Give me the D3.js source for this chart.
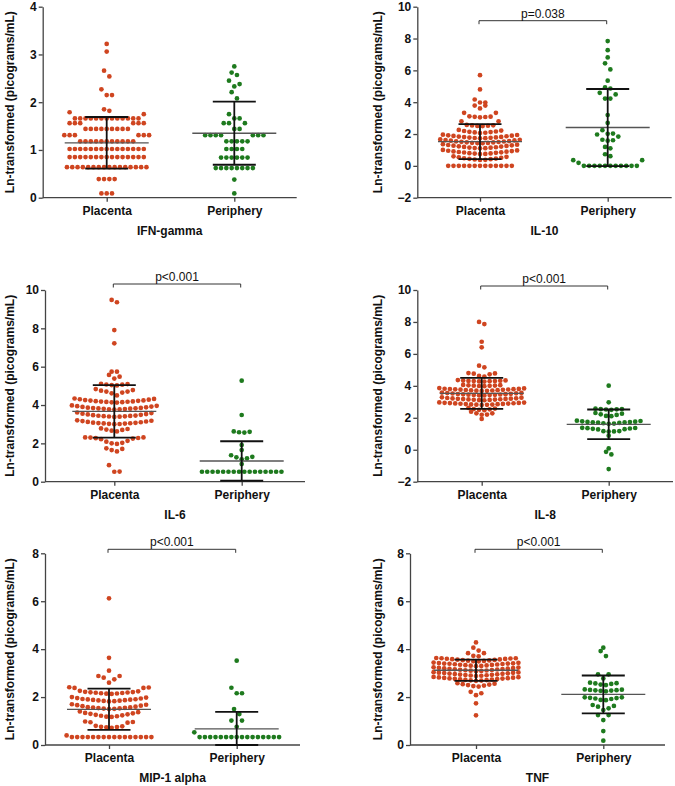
<!DOCTYPE html>
<html><head><meta charset="utf-8">
<script src="https://cdnjs.cloudflare.com/ajax/libs/d3/7.8.5/d3.min.js"></script>
<style>body{margin:0;background:#fff;} text{font-family:"Liberation Sans",Arial,sans-serif;}</style>
</head><body><svg id="c" width="675" height="786"></svg>
<script>
// ---------------- data ----------------
const groups = ["Placenta", "Periphery"];
const cytokines = ["IFN-gamma", "IL-10", "IL-6", "IL-8", "MIP-1 alpha", "TNF"];
const yDomains = [[0, 4], [-2, 10], [0, 10], [-2, 10], [0, 8], [0, 8]];
const yTicks = [[0,1,2,3,4], [-2,0,2,4,6,8,10], [0,2,4,6,8,10], [-2,0,2,4,6,8,10], [0,2,4,6,8], [0,2,4,6,8]];
const pLabels = [null, "p=0.038", "p<0.001", "p<0.001", "p<0.001", "p<0.001"];
const placentaMeans = [1.15, 1.52, 3.67, 3.53, 1.49, 3.12];
const placentaSDs   = [0.54, 1.10, 1.37, 0.97, 0.86, 0.44];
const peripheryMeans = [1.35, 2.41, 1.08, 1.59, 0.67, 2.11];
const peripherySDs   = [0.66, 2.42, 1.03, 0.93, 0.71, 0.79];

const ifnPlacenta = [3.22,3.06,2.66,2.54,2.27,2.15,2.15,1.85,1.82,1.79,1.75,
1.66,1.66,1.66,1.66,1.66,1.66,1.66,1.66,1.66,1.66,1.66,1.66,1.66,
1.56,1.56,1.56,1.56,1.56,1.56,
1.44,1.44,1.44,1.44,1.44,1.44,1.44,1.44,1.44,
1.31,1.31,1.31,1.31,1.31,1.31,
1.18,1.18,1.18,1.18,1.18,1.18,1.18,1.18,1.18,1.18,1.18,
1.02,1.02,1.02,1.02,1.02,1.02,1.02,1.02,1.02,1.02,1.02,1.02,1.02,1.02,1.02,
0.85,0.85,0.85,0.85,0.85,0.85,0.85,0.85,0.85,0.85,0.85,0.85,0.85,0.85,0.85,
0.64,0.64,0.64,0.64,0.64,0.64,0.64,0.64,0.64,0.64,0.64,0.64,0.64,0.64,0.64,0.64,
0.39,0.39,0.39,0.39,
0.09,0.09,0.09];
const ifnPeriphery = [2.75,2.62,2.57,2.45,2.38,2.33,2.21,2.08,1.75,1.66,1.66,1.56,1.56,1.56,1.44,1.44,
1.31,1.31,1.31,1.31,1.31,1.31,1.31,
1.18,1.18,1.18,1.18,1.18,
1.02,1.02,1.02,1.02,
0.84,0.84,0.84,0.84,0.84,0.84,
0.62,0.62,0.62,0.62,0.62,0.62,0.62,0.62,
0.38,0.09];

const il10Placenta = [5.70,4.80,4.17,3.98,3.98,3.79,3.79,3.61,3.33,3.33,
3.05,3.07,3.08,3.09,3.11,
2.80,2.80,
2.50,2.51,2.52,2.54,2.55,2.57,
2.06,2.08,2.10,2.12,2.14,2.16,2.19,2.22,2.26,
1.73,1.74,1.75,1.76,1.78,1.79,1.81,1.82,1.84,1.86,1.88,1.90,1.92,1.94,1.96,
1.42,1.43,1.44,1.45,1.47,1.48,1.50,1.51,1.53,1.54,1.56,1.58,1.60,1.62,1.64,1.66,
1.10,1.11,1.12,1.14,1.15,1.17,1.19,1.21,1.23,1.25,1.27,1.29,1.31,1.33,1.36,
0.74,0.75,0.77,0.78,0.80,0.82,0.84,0.85,0.87,0.89,0.91,0.93,0.95,0.97,1.00,
0.37,0.38,0.40,0.42,0.44,0.46,0.48,0.51,0.54,0.57,0.60,
0,0,0,0,0,0,0,0,0,0,0,0,0];
const il10Periphery = [7.84,7.27,6.81,6.44,6.06,5.35,4.93,4.86,4.59,4.49,4.23,4.23,3.19,2.70,
2.24,2.03,2.01,1.97,1.84,1.64,1.61,1.58,1.19,1.10,0.73,0.61,0.36,0.36,0.19,
0,0,0,0,0,0,0,0,0,0,0];

const il6Placenta = [9.48,9.36,7.91,7.22,5.74,5.74,5.57,5.48,5.38,
5.02,5.04,5.06,5.07,5.09,5.11,
4.50,4.61,4.65,4.70,4.70,4.75,4.78,4.83,
4.13,4.14,4.15,4.16,4.17,4.18,4.19,4.20,4.22,4.23,4.24,4.26,4.28,4.30,4.32,4.34,
3.76,3.77,3.78,3.79,3.80,3.81,3.82,3.83,3.84,3.85,3.86,3.88,3.90,3.92,3.94,3.96,3.98,
3.38,3.39,3.40,3.41,3.42,3.43,3.44,3.45,3.47,3.49,3.51,3.53,3.55,3.58,3.61,
3.00,3.01,3.02,3.03,3.04,3.05,3.06,3.07,3.08,3.10,3.12,3.14,3.16,3.18,3.20,
2.62,2.66,2.70,2.72,2.75,2.78,
1.97,2.00,2.03,2.09,2.13,2.22,2.25,2.27,2.28,2.30,2.31,2.31,
1.58,1.65,1.71,1.74,
0.86,0.53,0.52];
const il6Periphery = [5.27,3.48,2.62,2.60,2.58,2.56,1.91,1.65,1.38,1.30,1.27,1.22,1.17,0.92,
0.52,0.52,0.52,0.52,0.52,0.52,0.52,0.52,0.52,0.52,0.52,0.52,0.52,0.52,0.52,0.52];

const il8Placenta = [8.00,7.87,6.76,6.41,5.26,5.16,
4.58,4.62,4.72,4.76,4.78,4.80,
4.27,4.28,4.29,4.30,4.30,4.31,4.32,4.33,4.34,4.36,
3.98,3.99,4.00,4.01,4.02,4.03,4.04,4.06,
3.68,3.69,3.70,3.71,3.72,3.73,3.74,3.75,3.76,3.77,3.78,3.79,3.80,3.81,3.82,3.84,3.86,
3.40,3.41,3.42,3.43,3.44,3.45,3.46,3.47,3.48,3.49,3.50,3.52,3.53,3.55,3.56,3.58,
3.10,3.11,3.12,3.13,3.14,3.15,3.16,3.17,3.18,3.19,3.20,3.21,3.22,3.24,3.26,3.28,
2.80,2.81,2.82,2.83,2.84,2.85,2.86,2.87,2.88,2.89,2.90,2.91,2.92,2.93,2.94,2.95,2.96,
2.48,2.50,2.53,2.55,2.58,2.62,
2.19,2.20,2.28,2.28,2.38,
1.93];
const il8Periphery = [4.01,2.97,2.57,2.55,2.54,2.53,2.52,2.50,2.30,2.26,2.22,2.18,2.12,2.10,
1.62,1.64,1.66,1.68,1.70,1.71,1.72,1.73,1.74,1.76,1.78,1.80,1.82,
1.37,1.36,1.35,1.33,1.31,1.29,1.27,
1.17,1.16,1.15,1.14,
0.88,0.08,-0.13,-0.29,-1.21];

const mipPlacenta = [6.12,3.64,3.10,2.88,2.88,2.81,2.74,2.60,
2.13,2.14,2.15,2.16,2.17,2.18,2.19,2.20,2.21,2.22,2.24,2.26,2.38,2.38,2.40,2.41,
1.82,1.83,1.84,1.85,1.86,1.87,1.88,1.89,1.90,1.91,1.92,1.94,1.96,1.98,2.00,
1.50,1.51,1.52,1.53,1.54,1.55,1.56,1.57,1.58,1.60,1.62,1.64,1.66,1.68,1.70,
1.17,1.18,1.20,1.22,1.24,1.26,1.28,1.30,1.32,1.34,1.37,1.40,
0.72,0.74,0.75,0.76,0.78,0.80,0.93,0.95,0.96,0.98,
0.33,0.33,0.33,0.33,0.33,0.33,0.33,0.33,0.33,0.33,0.33,0.33,0.33,0.33,0.33,0.33,0.40];
const mipPeriphery = [3.52,2.39,2.16,2.16,1.50,1.29,1.02,1.02,0.76,0.53,
0.33,0.33,0.33,0.33,0.33,0.33,0.33,0.33,0.33,0.33,0.33,0.33,0.33,0.33,0.33,0.33];

const tnfPlacenta = [4.28,4.06,3.94,3.83,3.83,3.72,3.70,
3.49,3.50,3.51,3.52,3.53,3.54,3.55,3.56,3.57,3.58,3.59,3.60,3.61,3.62,3.62,3.63,
3.29,3.30,3.31,3.32,3.33,3.34,3.35,3.36,3.37,3.38,3.39,3.40,3.40,3.41,3.42,3.43,3.44,
3.08,3.09,3.10,3.11,3.12,3.13,3.14,3.15,3.16,3.17,3.18,3.19,3.20,3.21,3.22,3.23,3.24,
2.88,2.89,2.90,2.91,2.92,2.93,2.94,2.95,2.96,2.97,2.98,2.99,3.00,3.01,3.02,3.03,3.04,
2.68,2.69,2.70,2.71,2.72,2.73,2.74,2.75,2.76,2.77,2.78,2.79,2.80,2.81,2.82,2.83,2.84,
2.44,2.46,2.48,2.50,2.52,2.54,2.56,2.58,
2.22,2.16,2.08,1.74,1.24];
const tnfPeriphery = [4.06,3.92,3.71,2.95,2.95,2.78,2.60,2.58,2.57,2.55,2.52,2.50,
2.32,2.31,2.30,2.29,2.28,2.27,2.26,2.24,
1.99,1.99,1.97,1.96,1.94,1.92,1.88,1.87,
1.67,1.63,1.60,1.53,1.46,
1.25,1.25,1.04,0.58,0.18];

const placentaData = [ifnPlacenta, il10Placenta, il6Placenta, il8Placenta, mipPlacenta, tnfPlacenta];
const peripheryData = [ifnPeriphery, il10Periphery, il6Periphery, il8Periphery, mipPeriphery, tnfPeriphery];

// ---------------- layout (positions / styles) ----------------
const panelLayout = [
  {x0:42.7, x1:296.7, yTop:6.7,   yBot:197.7, cx:[106.7,234.3], labX:13.5},
  {x0:417.3,x1:671.7, yTop:6.7,   yBot:197.7, cx:[480,607.7],   labX:382, brY:20.7},
  {x0:45,   x1:305,   yTop:290,   yBot:481.7, cx:[114.3,241.7], labX:14,  brY:284},
  {x0:417.3,x1:673,   yTop:290,   yBot:481.7, cx:[481.7,608.7], labX:382, brY:286},
  {x0:45,   x1:300,   yTop:553.3, yBot:745,   cx:[109,236.7],   labX:13.5,brY:549.3},
  {x0:410,  x1:665,   yTop:553.3, yBot:745,   cx:[476,603.3],   labX:382, brY:549.3}
];
const binSizes = [[0.147,0.147],[0.30,0.40],[0.35,0.22],[0.25,0.25],[0.30,0.30],[0.17,0.25]];
const colors = ["#cf4520", "#1e7a1e"];
const dotR = 2.35, dotStep = 5.3, meanHalf = 42, capHalf = 21.5;
const FONT = '"Liberation Sans", Arial, sans-serif';

function swarm(vals, bin) {
  const s = vals.slice().sort((a, b) => a - b);
  const out = []; let i = 0;
  while (i < s.length) {
    const start = s[i], grp = [];
    while (i < s.length && s[i] <= start + bin + 1e-9) { grp.push(s[i]); i++; }
    const n = grp.length;
    grp.forEach((v, k) => {
      let off;
      if (n % 2 === 1) off = k === 0 ? 0 : (k % 2 === 1 ? (k + 1) / 2 : -k / 2);
      else { const m = Math.floor(k / 2); off = k % 2 === 0 ? m + 0.5 : -(m + 0.5); }
      out.push({ v, off });
    });
  }
  return out;
}

const svg = d3.select("#c");
svg.append("rect").attr("width", 675).attr("height", 786).attr("fill", "#fff");

cytokines.forEach((name, pi) => {
  const L = panelLayout[pi];
  const y = d3.scaleLinear().domain(yDomains[pi]).range([L.yBot, L.yTop]);
  const x = d3.scaleOrdinal().domain(groups).range(L.cx);
  const g = svg.append("g");

  // y axis
  const ya = g.append("g").attr("transform", `translate(${L.x0},0)`)
    .call(d3.axisLeft(y).tickValues(yTicks[pi]).tickSize(4).tickSizeOuter(0).tickPadding(2).tickFormat(d3.format("d")));
  ya.select(".domain").attr("stroke", "#444").attr("stroke-width", 1.3);
  ya.selectAll(".tick line").attr("stroke", "#444").attr("stroke-width", 1.3);
  ya.selectAll(".tick text").attr("font-family", FONT).attr("font-size", 12).attr("font-weight", "bold").attr("fill", "#111");

  // x axis
  const xa = g.append("g").attr("transform", `translate(0,${L.yBot})`)
    .call(d3.axisBottom(x).tickSize(4).tickSizeOuter(0).tickPadding(4));
  xa.select(".domain").attr("d", `M${L.x0},0H${L.x1}`).attr("stroke", "#444").attr("stroke-width", 1.3);
  xa.selectAll(".tick line").attr("stroke", "#444").attr("stroke-width", 1.3);
  xa.selectAll(".tick text").attr("font-family", FONT).attr("font-size", 12).attr("font-weight", "bold").attr("fill", "#111")
    .attr("dy", null).attr("y", 17);

  // y label
  g.append("text").attr("transform", `translate(${L.labX},${(L.yTop + L.yBot) / 2}) rotate(-90)`)
    .attr("text-anchor", "middle").attr("font-family", FONT).attr("font-size", 12).attr("font-weight", "bold").attr("fill", "#111")
    .text("Ln-transformed (picograms/mL)");

  // title
  g.append("text").attr("x", (L.x0 + L.x1) / 2).attr("y", L.yBot + 37)
    .attr("text-anchor", "middle").attr("font-family", FONT).attr("font-size", 12).attr("font-weight", "bold").attr("fill", "#111")
    .text(name);

  // dots
  const sets = [placentaData[pi], peripheryData[pi]];
  sets.forEach((vals, gi) => {
    const pts = swarm(vals, binSizes[pi][gi]);
    g.append("g").selectAll("circle").data(pts).join("circle")
      .attr("cx", d => x(groups[gi]) + d.off * dotStep)
      .attr("cy", d => y(d.v))
      .attr("r", dotR)
      .attr("fill", colors[gi]);
  });

  // mean & SD
  const means = [placentaMeans[pi], peripheryMeans[pi]];
  const sds = [placentaSDs[pi], peripherySDs[pi]];
  groups.forEach((grp, gi) => {
    const cx = x(grp), m = means[gi], sd = sds[gi];
    const hi = m + sd, lo = Math.max(m - sd, yDomains[pi][0]);
    g.append("line").attr("x1", cx - meanHalf).attr("x2", cx + meanHalf)
      .attr("y1", y(m)).attr("y2", y(m)).attr("stroke", "#555").attr("stroke-width", 1.3);
    g.append("line").attr("x1", cx).attr("x2", cx).attr("y1", y(hi)).attr("y2", y(lo))
      .attr("stroke", "#111").attr("stroke-width", 1.8);
    [hi, lo].forEach(v => g.append("line").attr("x1", cx - capHalf).attr("x2", cx + capHalf)
      .attr("y1", y(v)).attr("y2", y(v)).attr("stroke", "#111").attr("stroke-width", 1.8));
  });

  // p-value bracket
  if (pLabels[pi]) {
    const xa1 = x(groups[0]) - 1, xb1 = x(groups[1]) - 1, by = L.brY;
    g.append("path").attr("d", `M${xa1},${by + 3.5}V${by}H${xb1}V${by + 3.5}`)
      .attr("fill", "none").attr("stroke", "#333").attr("stroke-width", 1);
    g.append("text").attr("x", (xa1 + xb1) / 2).attr("y", by - 3)
      .attr("text-anchor", "middle").attr("font-family", FONT).attr("font-size", 12).attr("fill", "#111")
      .text(pLabels[pi]);
  }
});
</script></body></html>
